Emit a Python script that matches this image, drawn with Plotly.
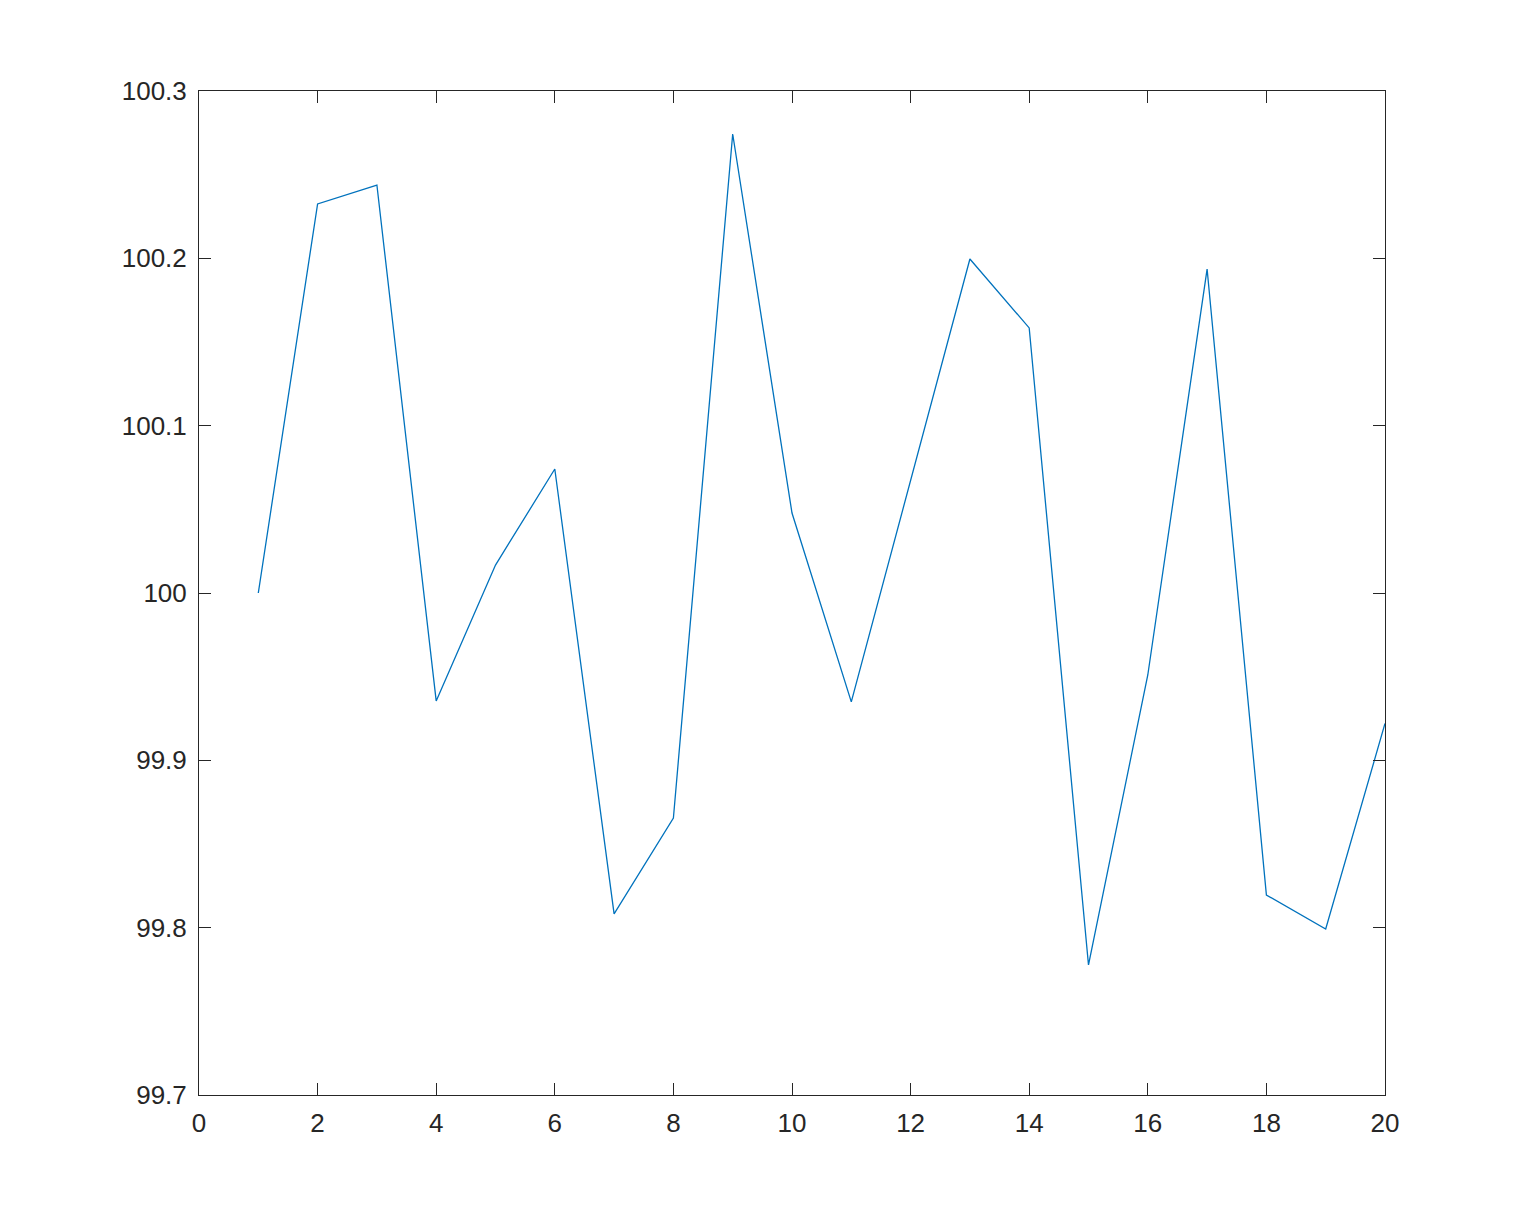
import plotly.graph_objects as go

x_vals = list(range(1, 21))
y_vals = [100.0, 100.2325, 100.2438, 99.9355, 100.0167, 100.0741, 99.8082, 99.8655,
          100.2743, 100.0478, 99.9349, 100.0675, 100.1996, 100.1584, 99.7777, 99.951,
          100.1936, 99.8195, 99.7992, 99.922]
x_ticks = list(range(0, 21, 2))
y_ticks = [99.7, 99.8, 99.9, 100.0, 100.1, 100.2, 100.3]
y_tick_text = ["99.7", "99.8", "99.9", "100", "100.1", "100.2", "100.3"]

fig = go.Figure()
fig.add_trace(go.Scatter(x=x_vals, y=y_vals, mode="lines",
                         line=dict(color="#0072BD", width=1.3), showlegend=False))

axis_common = dict(showline=True, mirror="ticks", linecolor="#262626", linewidth=1,
                   ticks="inside", ticklen=12, tickcolor="#262626", tickwidth=1,
                   showgrid=False, zeroline=False,
                   tickfont=dict(family="Liberation Sans, Arial", size=26, color="#262626"))

fig.update_layout(
    width=1532, height=1232,
    margin=dict(l=191, r=155, t=83, b=145),
    paper_bgcolor="white", plot_bgcolor="white",
    xaxis=dict(range=[0, 20], tickvals=x_ticks, ticklabelstandoff=5, **axis_common),
    yaxis=dict(range=[99.7, 100.3], tickvals=y_ticks, ticktext=y_tick_text,
               ticklabelstandoff=6, **axis_common),
)
fig.write_html("out.html")
